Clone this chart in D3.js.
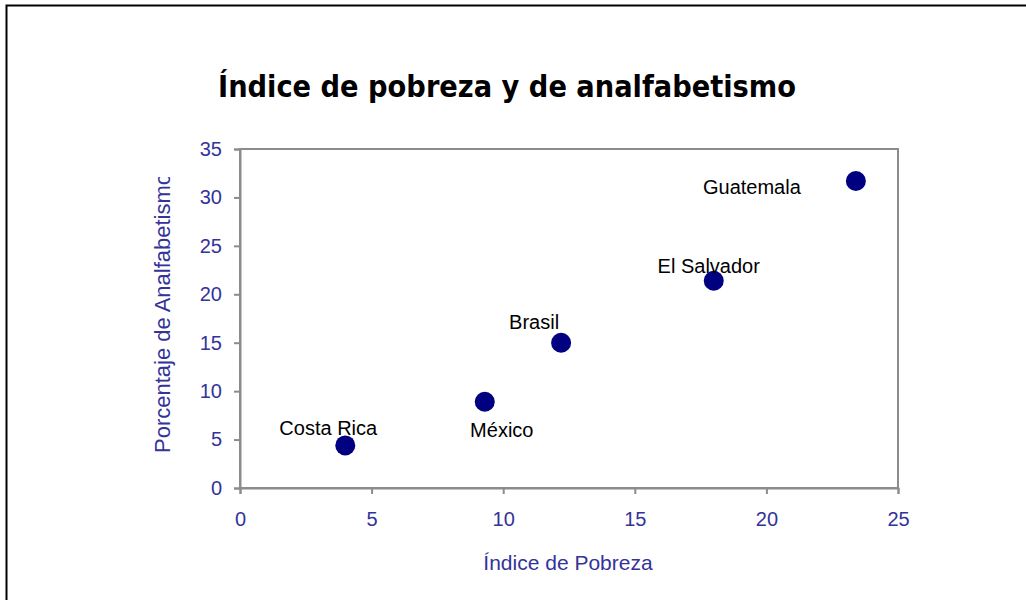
<!DOCTYPE html>
<html>
<head>
<meta charset="utf-8">
<script src="https://cdn.jsdelivr.net/npm/d3@7"></script>
<style>
  body { margin: 0; background: #fff; }
  svg { display: block; }
</style>
</head>
<body>
<svg id="chart"></svg>
<script>
// datos del gráfico
const paises = ["Costa Rica", "México", "Brasil", "El Salvador", "Guatemala"];
const pobreza = [4.0, 9.3, 12.2, 18.0, 23.4];
const analfabetismo = [4.4, 8.9, 15.0, 21.4, 31.7];
const xTicks = [0, 5, 10, 15, 20, 25];
const yTicks = [0, 5, 10, 15, 20, 25, 30, 35];

const width = 1026;
const height = 600;
const svg = d3.select("#chart").attr("width", width).attr("height", height);

const margin = { top: 149, right: 128, bottom: 112, left: 240 };
const azul = "#333399";
const gris = "#8c8c8c";
const fuente = "'Liberation Sans', Arial, sans-serif";

// marco exterior
svg.append("rect")
  .attr("x", 6.5).attr("y", 5.5)
  .attr("width", width + 20).attr("height", height + 20)
  .attr("fill", "#fff")
  .attr("stroke", "#000")
  .attr("stroke-width", 2);

const x = d3.scaleLinear().domain([0, 25]).range([margin.left, width - margin.right]);
const y = d3.scaleLinear().domain([0, 35]).range([height - margin.bottom, margin.top]);

// titulo
svg.append("text")
  .attr("x", 507)
  .attr("y", 97)
  .attr("text-anchor", "middle")
  .style("font-family", "'DejaVu Sans', Verdana, sans-serif")
  .style("font-weight", "bold")
  .style("font-size", "31px")
  .attr("fill", "#000")
  .attr("textLength", 578)
  .attr("lengthAdjust", "spacingAndGlyphs")
  .text("Índice de pobreza y de analfabetismo");

// area del grafico
svg.append("rect")
  .attr("x", x(0)).attr("y", y(35))
  .attr("width", x(25) - x(0)).attr("height", y(0) - y(35))
  .attr("fill", "none")
  .attr("stroke", gris)
  .attr("stroke-width", 2);

// ejes
const xAxis = svg.append("g")
  .attr("transform", `translate(0,${y(0)})`)
  .call(d3.axisBottom(x).tickValues(xTicks).tickSize(6).tickPadding(18));

const yAxis = svg.append("g")
  .attr("transform", `translate(${x(0)},0)`)
  .call(d3.axisLeft(y).tickValues(yTicks).tickSize(6).tickPadding(12));

[xAxis, yAxis].forEach(ax => {
  ax.select(".domain").attr("stroke", gris).attr("stroke-width", 2);
  ax.selectAll(".tick line").attr("stroke", gris).attr("stroke-width", 2);
  ax.selectAll(".tick text")
    .attr("fill", azul)
    .style("font-family", fuente)
    .style("font-size", "20px");
});

// titulos de ejes
svg.append("text")
  .attr("x", 568)
  .attr("y", 570)
  .attr("text-anchor", "middle")
  .attr("fill", azul)
  .style("font-family", fuente)
  .style("font-size", "21px")
  .text("Índice de Pobreza");

// el titulo vertical aparece recortado en el original
svg.append("clipPath").attr("id", "clipY")
  .append("rect").attr("x", 130).attr("y", 177).attr("width", 60).attr("height", 320);

svg.append("g")
  .attr("clip-path", "url(#clipY)")
  .append("text")
  .attr("transform", "translate(170,453) rotate(-90)")
  .attr("text-anchor", "start")
  .attr("fill", azul)
  .style("font-family", fuente)
  .style("font-size", "22px")
  .text("Porcentaje de Analfabetismo");

// puntos
const datos = paises.map((p, i) => ({ pais: p, x: pobreza[i], y: analfabetismo[i] }));

svg.append("g")
  .selectAll("circle")
  .data(datos)
  .join("circle")
  .attr("cx", d => x(d.x))
  .attr("cy", d => y(d.y))
  .attr("r", 10)
  .attr("fill", "#000080");

// etiquetas (desplazamiento en px respecto al punto)
const desplaz = {
  "Costa Rica": [-17, -10],
  "México": [17, 35],
  "Brasil": [-27, -14],
  "El Salvador": [-5, -8],
  "Guatemala": [-104, 13]
};

svg.append("g")
  .selectAll("text")
  .data(datos)
  .join("text")
  .attr("x", d => x(d.x) + desplaz[d.pais][0])
  .attr("y", d => y(d.y) + desplaz[d.pais][1])
  .attr("text-anchor", "middle")
  .attr("fill", "#000")
  .style("font-family", fuente)
  .style("font-size", "20px")
  .text(d => d.pais);
</script>
</body>
</html>
